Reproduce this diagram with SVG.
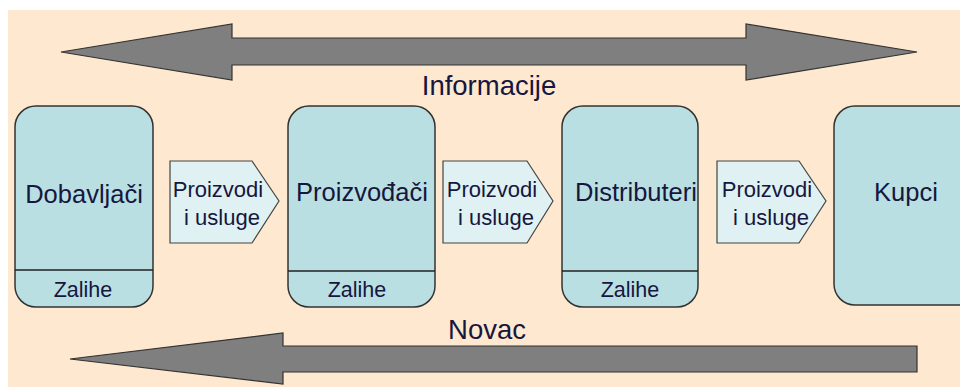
<svg xmlns="http://www.w3.org/2000/svg" width="960" height="388" viewBox="0 0 960 388">
<style>
.bg{fill:#FEE8CF}
.box{fill:#B9DFE2;stroke:#333;stroke-width:1.5}
.sep{stroke:#222;stroke-width:1.5}
.flow{fill:#DFF1F2;stroke:#444;stroke-width:1.2}
.arr{fill:#7F7F7F;stroke:#333;stroke-width:1.2;stroke-linejoin:miter}
text{font-family:"Liberation Sans",Arial,sans-serif;fill:#16163E;text-anchor:middle}
.big{font-size:25.5px}
.lab{font-size:27.5px}
.small{font-size:21.5px}
.fl{font-size:22px}
</style>
<rect class="bg" x="8" y="10" width="952" height="377"/>
<g id="connectors">
<g id="informacije">
<polygon class="arr" points="61,52 232,24 232,38 746,38 746,24 917,52 746,80 746,65 232,65 232,80"/>
<text class="lab" x="489" y="95">Informacije</text>
</g>
<g id="novac">
<polygon class="arr" points="70,359 283,333 283,346 917,346 917,372 283,372 283,384"/>
<text class="lab" x="487" y="339">Novac</text>
</g>
<g id="flow1">
<polygon class="flow" points="170,161 252,161 279,201 252,243 170,243"/>
<text class="fl" x="218" y="197">Proizvodi</text>
<text class="fl" x="222" y="225">i usluge</text>
</g>
<g id="flow2">
<polygon class="flow" points="443,161 527,161 553,201 527,243 443,243"/>
<text class="fl" x="492" y="197">Proizvodi</text>
<text class="fl" x="496" y="225">i usluge</text>
</g>
<g id="flow3">
<polygon class="flow" points="717,161 799,161 826,201 799,243 717,243"/>
<text class="fl" x="767" y="197">Proizvodi</text>
<text class="fl" x="771" y="225">i usluge</text>
</g>
</g>
<g id="dobavljaci">
<rect class="box" x="15" y="106" width="138" height="201" rx="21"/>
<line class="sep" x1="15" y1="270" x2="153" y2="270"/>
<text class="big" x="84" y="203">Dobavljači</text>
<text class="small" x="83" y="297">Zalihe</text>
</g>
<g id="proizvodjaci">
<rect class="box" x="288" y="106" width="147" height="201" rx="21"/>
<line class="sep" x1="288" y1="271" x2="435" y2="271"/>
<text class="big" x="362" y="201">Proizvođači</text>
<text class="small" x="357" y="297">Zalihe</text>
</g>
<g id="distributeri">
<rect class="box" x="562" y="106" width="136" height="201" rx="21"/>
<line class="sep" x1="562" y1="271" x2="698" y2="271"/>
<text class="big" x="636" y="201">Distributeri</text>
<text class="small" x="630" y="297">Zalihe</text>
</g>
<g id="kupci">
<rect class="box" x="834" y="106" width="150" height="199" rx="21"/>
<text class="big" x="906" y="201">Kupci</text>
</g>
</svg>
